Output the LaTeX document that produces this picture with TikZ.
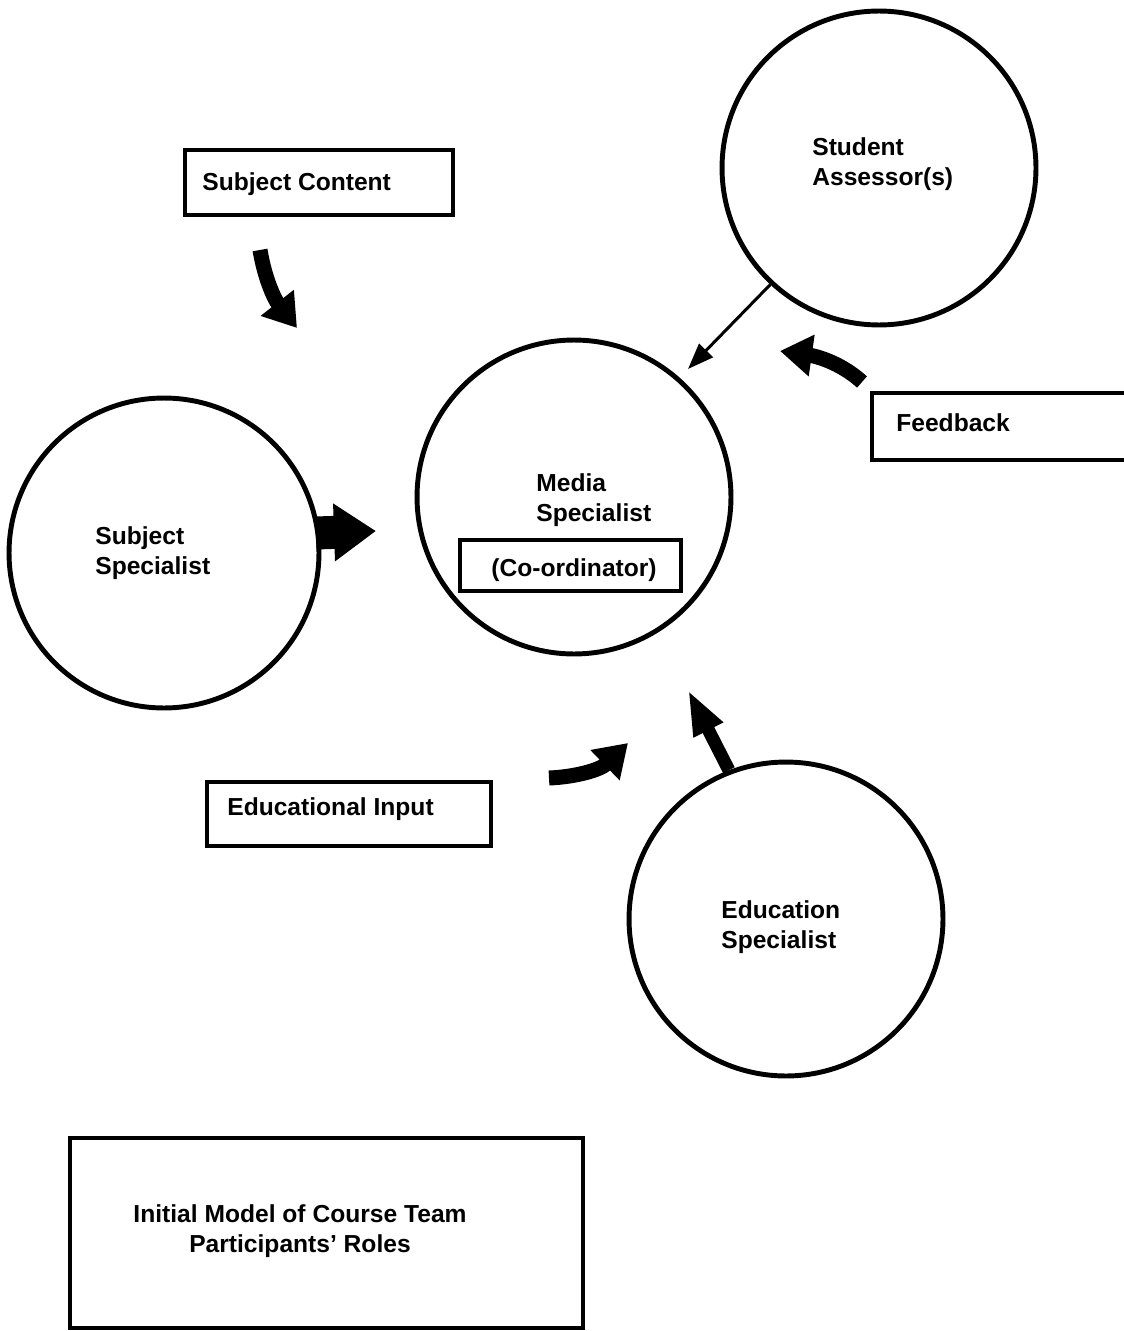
\documentclass[tikz,border=0pt]{standalone}
\usepackage{fontspec}
\setmainfont{Liberation Sans}
\usetikzlibrary{arrows.meta}
\begin{document}
\begin{tikzpicture}[x=0.02cm,y=-0.02cm,
  role/.style={circle,draw,line width=2.8pt,minimum size=6.28cm,inner sep=0pt},
  boxframe/.style={draw,line width=2.6pt,rectangle,inner sep=0pt},
  lbl/.style={font=\fontsize{14}{17}\selectfont\bfseries,inner sep=0pt,align=left,anchor=west},
  bigarrow/.style={line width=0.3cm,-{Triangle[length=0.64cm,width=0.8cm]}},
  thinarrow/.style={line width=1.7pt,-{Triangle[length=0.52cm,width=0.38cm]}}
]
\clip (0,0) rectangle (1124,1331);
\fill[white] (0,0) rectangle (1124,1331);

% circles
\node[role] (sa) at (879,168) {};
\node[role] (ms) at (574,497) {};
\node[role] (es) at (786,919) {};
\node[role,minimum size=6.2cm] (ss) at (164,553) {};

% boxes
\node[boxframe,minimum width=5.36cm,minimum height=1.3cm] (bsc) at (319,182.5) {};
\node[boxframe,minimum width=5.56cm,minimum height=1.34cm] (bfb) at (1011,426.5) {};
\node[boxframe,minimum width=4.42cm,minimum height=1.02cm] (bco) at (570.5,565.5) {};
\node[boxframe,minimum width=5.68cm,minimum height=1.28cm] (bei) at (349,814) {};
\node[boxframe,minimum width=10.26cm,minimum height=3.8cm] (bti) at (326.5,1233) {};

% texts
\node[lbl] (tsc) at (202,184) {Subject Content};
\node[lbl] (tsa) at (812,164) {Student\\Assessor(s)};
\node[lbl] (tfb) at (896,423) {Feedback};
\node[lbl] (tms) at (536,500) {Media\\Specialist};
\node[lbl] (tco) at (491,570) {(Co-ordinator)};
\node[lbl] (tss) at (95,553.5) {Subject\\Specialist};
\node[lbl] (tei) at (227,809) {Educational Input};
\node[lbl] (tes) at (721,927) {Education\\Specialist};
\node[lbl,align=center,anchor=center] (tit) at (300,1231.5) {Initial Model of Course Team\\Participants' Roles};

% arrows
\coordinate (a1s) at (260,250);
\coordinate (a1e) at (297,328);
\draw[bigarrow] (a1s) .. controls (265,280) and (275,300) .. (a1e);

\coordinate (a2s) at (316,533);
\coordinate (a2e) at (376,531);
\draw[line width=0.66cm,-{Triangle[length=0.84cm,width=1.1cm]}] (a2s) -- (a2e);

\coordinate (a3e) at (688,369);
\draw[thinarrow] (sa.227) -- (a3e);

\coordinate (a4s) at (862,382);
\coordinate (a4e) at (780,351);
\draw[bigarrow] (a4s) .. controls (840,362) and (815,356) .. (a4e);

\coordinate (a5s) at (549,778);
\coordinate (a5e) at (628,743);
\draw[bigarrow] (a5s) .. controls (575,777) and (600,770) .. (a5e);

\coordinate (a6e) at (688,690);
\draw[line width=0.26cm,-{Triangle[length=0.9cm,width=0.6cm]}] (es.111) -- (a6e);
\end{tikzpicture}
\end{document}
